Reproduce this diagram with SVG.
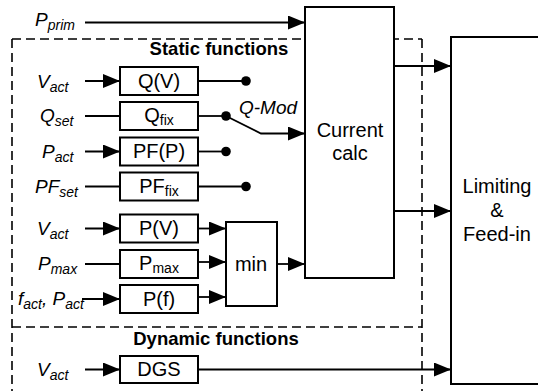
<svg xmlns="http://www.w3.org/2000/svg" width="538" height="391" viewBox="0 0 538 391">
<style>
.box{fill:#fff;stroke:#000;stroke-width:2}
.ln{fill:none;stroke:#000;stroke-width:1.8}
.dash{fill:none;stroke:#000;stroke-width:1.6;stroke-dasharray:9 5}
.t{font-family:"Liberation Sans",Arial,sans-serif;font-size:19px;fill:#000}
.c{text-anchor:middle;font-size:20px}
.i{font-style:italic}
.b{font-weight:bold;font-size:18.5px}
.s{font-size:14px}
</style>
<defs>
<marker id="ah" markerUnits="userSpaceOnUse" markerWidth="17" markerHeight="14" refX="17" refY="7" orient="auto">
<path d="M0,0 L17,7 L0,14 z" fill="#000"/>
</marker>
</defs>
<g id="frame">
<path class="dash" d="M12,39 H422 M12,39 V391 M422,39 V391 M12,327 H422"/>
<text class="t b" x="219" y="55" text-anchor="middle">Static functions</text>
<text class="t b" x="216" y="345" text-anchor="middle">Dynamic functions</text>
</g>
<g id="labels">
<text class="t i" x="35" y="26">P<tspan class="s" dy="4">prim</tspan></text>
<text class="t i" x="37" y="88">V<tspan class="s" dy="4">act</tspan></text>
<text class="t i" x="40" y="122">Q<tspan class="s" dy="4">set</tspan></text>
<text class="t i" x="42" y="158">P<tspan class="s" dy="4">act</tspan></text>
<text class="t i" x="35" y="193">PF<tspan class="s" dy="4">set</tspan></text>
<text class="t i" x="37" y="235">V<tspan class="s" dy="4">act</tspan></text>
<text class="t i" x="38" y="270">P<tspan class="s" dy="4">max</tspan></text>
<text class="t i" x="18" y="305">f<tspan class="s" dy="4">act</tspan><tspan dy="-4">, P</tspan><tspan class="s" dy="4">act</tspan></text>
<text class="t i" x="37" y="376">V<tspan class="s" dy="4">act</tspan></text>
<text class="t i" x="239" y="114">Q-Mod</text>
</g>
<g id="connectors">
<line class="ln" x1="85" y1="22.5" x2="305" y2="22.5" marker-end="url(#ah)"/>
<line class="ln" x1="85" y1="81" x2="120" y2="81" marker-end="url(#ah)"/>
<line class="ln" x1="85" y1="116" x2="120" y2="116"/>
<line class="ln" x1="85" y1="151.5" x2="120" y2="151.5" marker-end="url(#ah)"/>
<line class="ln" x1="85" y1="186.5" x2="120" y2="186.5"/>
<line class="ln" x1="85" y1="228.5" x2="120" y2="228.5" marker-end="url(#ah)"/>
<line class="ln" x1="85" y1="264" x2="120" y2="264"/>
<line class="ln" x1="82" y1="299" x2="120" y2="299" marker-end="url(#ah)"/>
<line class="ln" x1="85" y1="369.5" x2="120" y2="369.5" marker-end="url(#ah)"/>
<line class="ln" x1="198" y1="81" x2="246" y2="81"/>
<circle cx="246" cy="81" r="4.8"/>
<line class="ln" x1="198" y1="116" x2="226" y2="116"/>
<circle cx="226" cy="116" r="4.8"/>
<path class="ln" d="M226,116 L261,133.5 H305" marker-end="url(#ah)"/>
<line class="ln" x1="198" y1="151.5" x2="226" y2="151.5"/>
<circle cx="226" cy="151.5" r="4.8"/>
<line class="ln" x1="198" y1="186.5" x2="246" y2="186.5"/>
<circle cx="246" cy="186.5" r="4.8"/>
<line class="ln" x1="198" y1="228.5" x2="226" y2="228.5" marker-end="url(#ah)"/>
<line class="ln" x1="198" y1="262" x2="226" y2="262" marker-end="url(#ah)"/>
<line class="ln" x1="198" y1="297" x2="226" y2="297" marker-end="url(#ah)"/>
<line class="ln" x1="277" y1="264" x2="305" y2="264" marker-end="url(#ah)"/>
<line class="ln" x1="394" y1="66" x2="451" y2="66" marker-end="url(#ah)"/>
<line class="ln" x1="394" y1="211" x2="451" y2="211" marker-end="url(#ah)"/>
<line class="ln" x1="198" y1="369.5" x2="451" y2="369.5" marker-end="url(#ah)"/>
</g>
<g id="QV"><rect class="box" x="120" y="67" width="78" height="28"/><text class="t c" x="159" y="88">Q(V)</text></g>
<g id="Qfix"><rect class="box" x="120" y="102" width="78" height="28"/><text class="t c" x="159" y="122">Q<tspan class="s" dy="3">fix</tspan></text></g>
<g id="PFP"><rect class="box" x="120" y="137.5" width="78" height="28"/><text class="t c" x="159" y="158">PF(P)</text></g>
<g id="PFfix"><rect class="box" x="120" y="172.5" width="78" height="28"/><text class="t c" x="159" y="193">PF<tspan class="s" dy="3">fix</tspan></text></g>
<g id="PV"><rect class="box" x="120" y="214.5" width="78" height="28"/><text class="t c" x="159" y="235">P(V)</text></g>
<g id="Pmax"><rect class="box" x="120" y="250" width="78" height="28"/><text class="t c" x="159" y="270">P<tspan class="s" dy="3">max</tspan></text></g>
<g id="Pf"><rect class="box" x="120" y="285" width="78" height="28"/><text class="t c" x="159" y="306">P(f)</text></g>
<g id="DGS"><rect class="box" x="120" y="356" width="78" height="27"/><text class="t c" x="159" y="376">DGS</text></g>
<g id="min"><rect class="box" x="226" y="222" width="51" height="84"/><text class="t c" x="251" y="271">min</text></g>
<g id="current"><rect class="box" x="305" y="7" width="89" height="271"/><text class="t c" x="350" y="137">Current</text><text class="t c" x="350" y="160">calc</text></g>
<g id="limiting"><rect class="box" x="451" y="37" width="95" height="347"/><text class="t c" x="497" y="193">Limiting</text><text class="t c" x="497" y="217">&amp;</text><text class="t c" x="497" y="241">Feed-in</text></g>
</svg>
